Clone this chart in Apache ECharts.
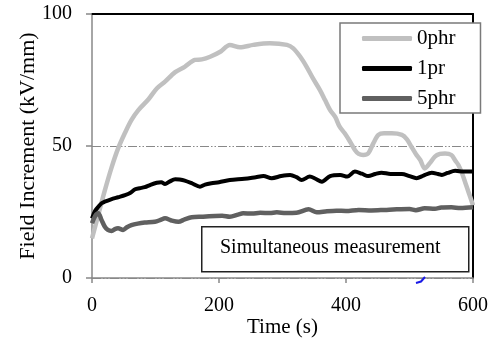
<!DOCTYPE html>
<html><head><meta charset="utf-8">
<script src="https://cdn.jsdelivr.net/npm/echarts@6/dist/echarts.min.js"></script>
<style>html,body{margin:0;padding:0;background:#fff}#c{width:494px;height:347px}</style>
</head><body><div id="c"></div>
<script>
var seriesNames = ['0phr', '1pr', '5phr'];
var xTicks = [0, 200, 400, 600];
var yTicks = [0, 50, 100];

var t0phr = [0,10,20,31,41,52,62,73,89,102,115,131,146,162,173,186,202,217,233,254,280,307,317,328,338,348,359,367,375,383,390,398,406,414,420,427,435,443,451,460,472,488,496,503,510,517,524,532,540,548,556,566,572,577,583,588,593,598,600];
var v0phr = [15,24,33,42,49,55,59.8,63.6,67.7,71.8,74.4,78,80,82.6,82.8,83.8,85.7,88.3,87.4,88.3,88.9,88.3,87,83.8,80,75.6,71.2,67.4,63.6,61,57.3,54.8,51.8,48.5,47,46.6,47.2,51,54.2,54.8,54.8,54.2,52.5,49.7,47,44.7,41.5,43.5,46,47,47.2,46.6,44.5,42.8,39.5,36,32.5,29,27.5];

var t1pr = [0,5,10,15,20,30,41,52,60,68,75,83,92,102,109,115,122,131,138,146,158,170,178,188,200,217,240,258,270,283,298,312,322,330,343,352,362,375,391,402,414,425,435,446,456,470,488,500,511,522,535,545,551,560,572,585,600];
var v1pr = [22.6,25.5,27,28.3,28.9,29.8,30.6,31.4,32.2,33.6,34,34.4,35.3,36.1,36.3,35.6,36.5,37.4,37.3,36.9,35.8,34.6,35.4,35.9,36.3,37.1,37.6,38.2,38.6,37.8,38.6,39,38.2,37.1,38.4,37.6,36.5,38.6,39,38.4,40.3,39.5,38.6,39.4,39.9,39.4,39.4,38.6,37.8,38.8,39.9,39.4,39,39.8,40.6,40.3,40.3];

var t5phr = [0,5,10,15,20,25,31,36,41,49,55,62,72,83,99,108,115,125,136,146,157,175,194,205,217,230,238,252,265,280,291,305,322,341,354,370,385,400,420,440,461,480,500,510,524,540,550,566,580,600];
var v5phr = [20.7,23.5,24.5,22,19.5,18.2,17.8,18.5,18.8,18.2,19.2,20,20.6,21,21.3,22,22.6,21.8,21.3,22.2,23,23.2,23.5,23.6,23.2,24,24.5,24.4,24.7,24.6,24.9,24.6,24.7,26,24.9,25.3,25.5,25.4,25.8,25.6,25.8,26,26.1,25.7,26.4,26.2,26.7,26.8,26.5,26.8];

function pairs(ts, vs){ return ts.map(function(t,i){ return [t, vs[i]]; }); }

var FONT = '"Liberation Serif", "Times New Roman", serif';
var chart = echarts.init(document.getElementById('c'), null, {renderer:'canvas'});
chart.setOption({
  animation: false,
  backgroundColor: '#fff',
  grid: {left: 92, right: 21, top: 14, bottom: 69},
  legend: {
    orient: 'vertical',
    left: 340, top: 23,
    data: seriesNames.map(function(n, i){ return {name: n, icon: 'roundRect', itemStyle: {color: ['#c0c0c0', '#000000', '#606060'][i]}}; }),
    itemWidth: 50, itemHeight: 5, itemGap: 9,
    padding: [5, 25, 4, 22],
    borderColor: '#7a7a7a', borderWidth: 1.5,
    backgroundColor: '#fff',
    textStyle: {fontFamily: FONT, fontSize: 21, color: '#000', lineHeight: 21}
  },
  xAxis: [{
    type: 'value', min: 0, max: 600, interval: 200,
    name: 'Time (s)', nameLocation: 'middle', nameGap: 39, nameMoveOverlap: false,
    nameTextStyle: {fontFamily: FONT, fontSize: 21, color: '#000'},
    axisLine: {lineStyle: {color: '#888', width: 1.5}},
    axisTick: {inside: false, length: 5, lineStyle: {color: '#888', width: 1.5}},
    axisLabel: {fontFamily: FONT, fontSize: 20, color: '#000', margin: 18,
      formatter: function(v){ return xTicks.indexOf(v) >= 0 ? String(v) : ''; }},
    splitLine: {show: false}
  }, {
    type: 'value', min: 0, max: 600, position: 'top',
    axisLine: {onZero: false, lineStyle: {color: '#000', width: 2}},
    axisTick: {show: false}, axisLabel: {show: false}, splitLine: {show: false}
  }],
  yAxis: [{
    type: 'value', min: 0, max: 100, interval: 50,
    name: 'Field Increment (kV/mm)', nameLocation: 'middle', nameGap: 53, nameRotate: 90, nameMoveOverlap: false,
    nameTextStyle: {fontFamily: FONT, fontSize: 22, color: '#000'},
    axisLine: {show: true, lineStyle: {color: '#888', width: 1.5}},
    axisTick: {show: true, length: 6, lineStyle: {color: '#888', width: 1.5}},
    axisLabel: {fontFamily: FONT, fontSize: 20, color: '#000', margin: 20,
      formatter: function(v){ return yTicks.indexOf(v) >= 0 ? String(v) : ''; }},
    splitLine: {show: true, lineStyle: {color: '#888', width: 1.2, type: [9, 2, 1.5, 2, 1.5, 2]}}
  }, {
    type: 'value', min: 0, max: 100, position: 'right',
    axisLine: {show: true, onZero: false, lineStyle: {color: '#000', width: 2}},
    axisTick: {show: false}, axisLabel: {show: false}, splitLine: {show: false}
  }],
  series: [
    {name: seriesNames[0], type: 'line', data: pairs(t0phr, v0phr), showSymbol: false, smooth: 0.3,
     lineStyle: {color: '#c0c0c0', width: 4.5}, itemStyle: {color: '#c0c0c0'}, z: 3},
    {name: seriesNames[1], type: 'line', data: pairs(t1pr, v1pr), showSymbol: false, smooth: 0.3,
     lineStyle: {color: '#000', width: 4}, itemStyle: {color: '#000'}, z: 4},
    {name: seriesNames[2], type: 'line', data: pairs(t5phr, v5phr), showSymbol: false, smooth: 0.3,
     lineStyle: {color: '#606060', width: 4.5}, itemStyle: {color: '#606060'}, z: 5}
  ],
  graphic: [
    {type: 'rect', left: 201, top: 226, shape: {width: 267, height: 45},
     style: {fill: '#fff', stroke: '#222', lineWidth: 1.5}, z: 10},
    {type: 'text', left: 220, top: 238,
     style: {text: 'Simultaneous measurement', font: '20px "Liberation Serif", serif', fill: '#000'}, z: 11},
    {type: 'polyline', shape: {points: [[416, 283], [421, 281.5], [425, 277]]},
     style: {stroke: '#1a1ae6', lineWidth: 2, fill: null}, z: 12}
  ]
});
</script>
</body></html>
